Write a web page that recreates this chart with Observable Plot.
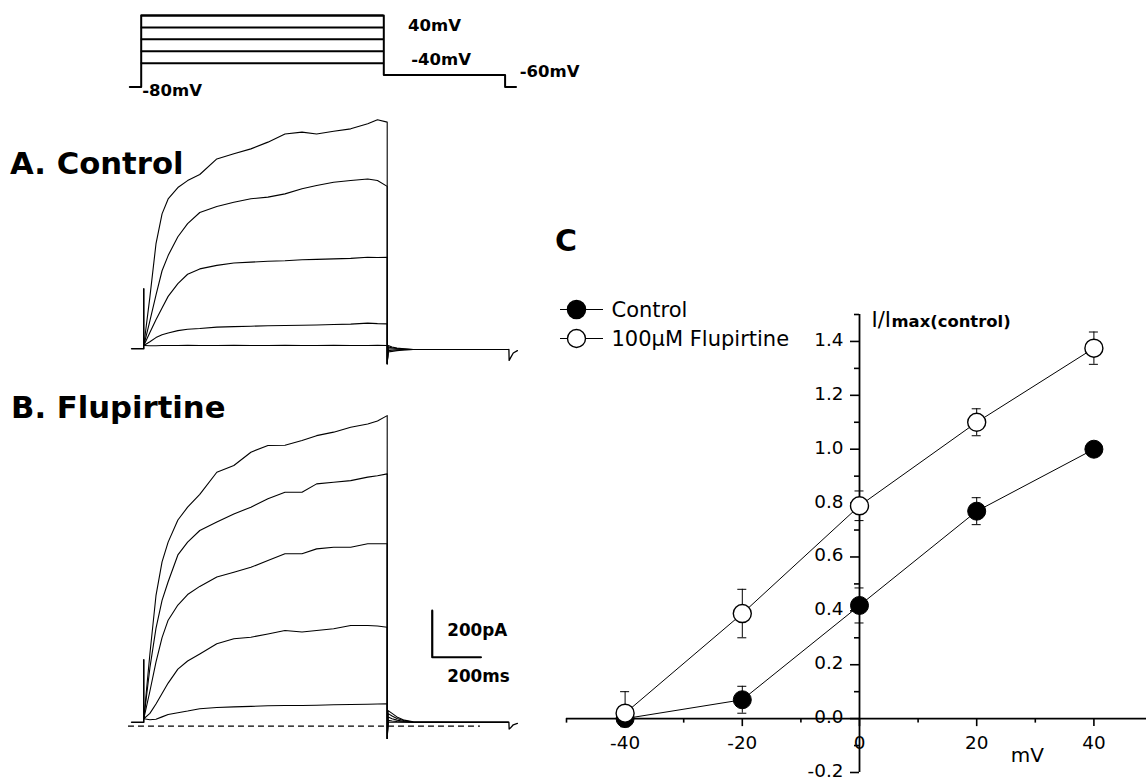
<!DOCTYPE html>
<html><head><meta charset="utf-8">
<script src="https://cdn.jsdelivr.net/npm/d3@7"></script>
<script src="https://cdn.jsdelivr.net/npm/@observablehq/plot@0.6"></script>
<style>
body{margin:0;background:#fff;}
#fig{position:relative;width:1146px;height:781px;overflow:hidden;background:#fff;font-family:"DejaVu Sans",sans-serif;}
.lbl{position:absolute;font-weight:bold;white-space:nowrap;line-height:1;color:#000;font-family:"DejaVu Sans",sans-serif;}
</style></head><body><div id="fig">
<div class="lbl" style="left:10px;top:149px;font-size:30.7px;">A. Control</div>
<div class="lbl" style="left:11px;top:393px;font-size:30.7px;">B. Flupirtine</div>
<div class="lbl" style="left:555px;top:226px;font-size:30px;">C</div>
</div>
<script>
// ---------- voltage protocol ----------
const protoSteps = [-40, -20, 0, 20, 40];          // mV
const protoHold = -80, protoTail = -60;             // mV
const protoT = [-47, 0, 1000, 1500, 1545];          // ms: start, step on, step off, tail end, end
const protoLabels = [
  {text: "40mV", t: 1100, v: 14.8},
  {text: "-40mV", t: 1113, v: -43.9},
  {text: "-60mV", t: 1560, v: -63.5},
  {text: "-80mV", t: 4, v: -94.3}
];

// ---------- current traces (pA) ----------
const stepTimes = [0, 25, 50, 75, 100, 140, 180, 230, 300, 370, 440, 510, 580, 650, 710, 780, 850, 920, 960, 1000];
const ctrlM40 = [14, 13, 13, 14, 14, 14, 15, 14, 14, 15, 14, 14, 15, 14, 14, 15, 14, 14, 15, 14];
const ctrlM20 = [14, 30, 48, 60, 68, 78, 84, 87, 93, 95, 97, 99, 100, 101, 102, 104, 106, 110, 108, 107];
const ctrl0   = [14, 70, 125, 175, 225, 280, 320, 343, 358, 368, 372, 376, 378, 382, 384, 386, 388, 393, 392, 393];
const ctrl20  = [14, 120, 230, 335, 400, 481, 537, 585, 611, 629, 644, 651, 665, 687, 701, 715, 722, 729, 722, 697];
const ctrl40  = [14, 222, 450, 579, 643, 692, 722, 748, 815, 837, 858, 887, 922, 930, 922, 934, 944, 966, 983, 973];
const fluM40 = [32, 28, 30, 40, 50, 58, 65, 75, 80, 83, 85, 88, 89, 89, 90, 92, 93, 94, 95, 96];
const fluM20 = [32, 55, 95, 140, 185, 245, 280, 310, 354, 375, 382, 396, 411, 404, 411, 418, 432, 432, 430, 425];
const flu0   = [32, 150, 275, 380, 455, 520, 565, 600, 640, 661, 682, 711, 740, 740, 761, 768, 768, 783, 783, 783];
const flu20  = [32, 250, 420, 540, 620, 735, 790, 840, 876, 911, 940, 976, 1004, 1004, 1040, 1047, 1054, 1069, 1075, 1083];
const flu40  = [32, 310, 560, 705, 790, 885, 940, 995, 1090, 1119, 1176, 1205, 1206, 1226, 1247, 1262, 1283, 1297, 1310, 1333];

const tailTimes = [1004, 1020, 1040, 1070, 1107, 1300, 1498];
const ctrlTailM40 = [14, 8, 3, 0, -3, -3, -3];
const ctrlTailM20 = [8, 4, 1, -1, -3, -3, -3];
const ctrlTail0   = [0, -1, -2, -3, -3, -3, -3];
const ctrlTail20  = [-8, -6, -5, -4, -3, -3, -3];
const ctrlTail40  = [-14, -11, -8, -5, -3, -3, -3];
const fluTailM40 = [17, 17, 17, 17, 17, 17, 17];
const fluTailM20 = [25, 22, 20, 18, 17, 17, 17];
const fluTail0   = [39, 32, 26, 20, 17, 17, 17];
const fluTail20  = [54, 44, 33, 23, 18, 17, 17];
const fluTail40  = [67, 55, 40, 26, 19, 17, 17];
const ctrlOffMin = -64, fluOffMin = -53;        // capacitive transient at step off
const holdTimes = [-50, 0];
const ctrlHold = 0, fluHold = 17;
const ctrlOnSpike = 257, fluOnSpike = 285;       // capacitive transient at step on
const notchTimes = [1500, 1501, 1506, 1518, 1535];
const ctrlNotch = [-3, -50, -40, -18, -8];
const fluNotch = [17, -12, -8, 6, 12];
const scaleBarT = [1185, 1385];   // 200 ms
const scaleBarI = [296, 496];     // 200 pA

// ---------- I-V data ----------
const mV = [-40, -20, 0, 20, 40];
const controlMean = [0.0, 0.07, 0.42, 0.77, 1.0];
const controlErr  = [0.03, 0.05, 0.065, 0.05, 0];
const fluMean = [0.02, 0.39, 0.79, 1.10, 1.375];
const fluErrHi = [0.08, 0.09, 0.055, 0.05, 0.06];
const fluErrLo = [0.0, 0.09, 0.055, 0.05, 0.06];
const xMajor = [-40, -20, 0, 20, 40];
const xMinor = [-50, -30, -10, 10, 30, 50];
const yMajor = [-0.2, 0.0, 0.2, 0.4, 0.6, 0.8, 1.0, 1.2, 1.4];
const yMinor = [-0.1, 0.1, 0.3, 0.5, 0.7, 0.9, 1.1, 1.3, 1.5];
const yLabels = ["-0.2", "0.0", "0.2", "0.4", "0.6", "0.8", "1.0", "1.2", "1.4"];
const legendNames = ["Control", "100\u03BCM Flupirtine"];

// ---------- helpers ----------
const W = 1146, H = 781;
const fig = document.getElementById("fig");
const FONT = "DejaVu Sans";
function overlay(opts) {
  const svg = Plot.plot(Object.assign({
    width: W, height: H, margin: 0,
    style: "position:absolute;left:0;top:0;background:transparent;overflow:visible;font-family:'DejaVu Sans';"
  }, opts));
  fig.appendChild(svg);
}
function tracePts(label, values, tail, offMin) {
  const pts = stepTimes.map((t, k) => ({v: label, t, i: values[k]}));
  pts.push({v: label, t: 1000, i: offMin});
  tailTimes.forEach((t, k) => pts.push({v: label, t, i: tail[k]}));
  return pts;
}

// ---------- protocol ----------
const outline = [
  {t: protoT[0], v: protoHold}, {t: protoT[1], v: protoHold}, {t: protoT[1], v: 40},
  {t: protoT[2], v: 40}, {t: protoT[2], v: protoTail}, {t: protoT[3], v: protoTail},
  {t: protoT[3], v: protoHold}, {t: protoT[4], v: protoHold}
];
overlay({
  x: {domain: [0, 1000], range: [140.7, 383.3], axis: null},
  y: {domain: [-80, 40], range: [86.5, 15], axis: null},
  marks: [
    Plot.ruleY(protoSteps, {y: d => d, x1: protoT[1], x2: protoT[2], stroke: "#000", strokeWidth: 2}),
    Plot.line(outline, {x: "t", y: "v", stroke: "#000", strokeWidth: 2}),
    Plot.text(protoLabels, {x: "t", y: "v", text: "text", textAnchor: "start", lineAnchor: "bottom",
      fontFamily: FONT, fontWeight: "bold", fontSize: 16.5, fill: "#000"})
  ]
});

// ---------- panel A ----------
const ctrlTraces = [
  ...tracePts(-40, ctrlM40, ctrlTailM40, ctrlOffMin),
  ...tracePts(-20, ctrlM20, ctrlTailM20, ctrlOffMin),
  ...tracePts(0, ctrl0, ctrlTail0, ctrlOffMin),
  ...tracePts(20, ctrl20, ctrlTail20, ctrlOffMin),
  ...tracePts(40, ctrl40, ctrlTail40, ctrlOffMin)
];
const ctrlPre = [{t: holdTimes[0], i: ctrlHold}, {t: holdTimes[1], i: ctrlHold}, {t: 0, i: ctrlOnSpike}, {t: 0, i: ctrlHold}];
const ctrlEnd = notchTimes.map((t, k) => ({t, i: ctrlNotch[k]}));
overlay({
  x: {domain: [0, 1000], range: [143.3, 386.7], axis: null},
  y: {domain: [0, 1000], range: [348.3, 115.3], axis: null},
  marks: [
    Plot.line(ctrlPre, {x: "t", y: "i", stroke: "#000", strokeWidth: 1.6}),
    Plot.line(ctrlTraces, {x: "t", y: "i", z: "v", stroke: "#000", strokeWidth: 1.1}),
    Plot.line(ctrlEnd, {x: "t", y: "i", stroke: "#000", strokeWidth: 1.3})
  ]
});

// ---------- panel B ----------
const fluTraces = [
  ...tracePts(-40, fluM40, fluTailM40, fluOffMin),
  ...tracePts(-20, fluM20, fluTailM20, fluOffMin),
  ...tracePts(0, flu0, fluTail0, fluOffMin),
  ...tracePts(20, flu20, fluTail20, fluOffMin),
  ...tracePts(40, flu40, fluTail40, fluOffMin)
];
const fluPre = [{t: holdTimes[0], i: fluHold}, {t: holdTimes[1], i: fluHold}, {t: 0, i: fluOnSpike}, {t: 0, i: fluHold}];
const fluEnd = notchTimes.map((t, k) => ({t, i: fluNotch[k]}));
const bar = [{t: scaleBarT[0], i: scaleBarI[1]}, {t: scaleBarT[0], i: scaleBarI[0]}, {t: scaleBarT[1], i: scaleBarI[0]}];
overlay({
  x: {domain: [0, 1000], range: [143.3, 386.7], axis: null},
  y: {domain: [0, 1000], range: [725.7, 492.7], axis: null},
  marks: [
    Plot.ruleY([0], {y: d => d, x1: -63, x2: 1383, stroke: "#000", strokeWidth: 1.2, strokeDasharray: "6,4"}),
    Plot.line(fluPre, {x: "t", y: "i", stroke: "#000", strokeWidth: 1.6}),
    Plot.line(fluTraces, {x: "t", y: "i", z: "v", stroke: "#000", strokeWidth: 1.1}),
    Plot.line(fluEnd, {x: "t", y: "i", stroke: "#000", strokeWidth: 1.3}),
    Plot.line(bar, {x: "t", y: "i", stroke: "#000", strokeWidth: 2.2}),
    Plot.text(["200pA"], {x: scaleBarT[0], y: (scaleBarI[0] + scaleBarI[1]) / 2, dx: 15, dy: 2, text: d => d,
      textAnchor: "start", lineAnchor: "bottom", fontFamily: FONT, fontWeight: "bold", fontSize: 16.8, fill: "#000"}),
    Plot.text(["200ms"], {x: scaleBarT[0], y: scaleBarI[0], dx: 15, dy: 25, text: d => d,
      textAnchor: "start", lineAnchor: "bottom", fontFamily: FONT, fontWeight: "bold", fontSize: 16.8, fill: "#000"})
  ]
});

// ---------- panel C ----------
const ctrlRows = mV.map((x, k) => ({x, m: controlMean[k], lo: controlMean[k] - controlErr[k], hi: controlMean[k] + controlErr[k]}));
const fluRows = mV.map((x, k) => ({x, m: fluMean[k], lo: fluMean[k] - fluErrLo[k], hi: fluMean[k] + fluErrHi[k]}));
const errMarks = (rows) => [
  Plot.ruleX(rows.filter(d => d.hi > d.lo), {x: "x", y1: "lo", y2: "hi", stroke: "#000", strokeWidth: 1}),
  Plot.ruleY(rows.filter(d => d.hi > d.m), {y: "hi", x1: "x", x2: "x", insetLeft: -4.5, insetRight: -4.5, stroke: "#000", strokeWidth: 1}),
  Plot.ruleY(rows.filter(d => d.lo < d.m), {y: "lo", x1: "x", x2: "x", insetLeft: -4.5, insetRight: -4.5, stroke: "#000", strokeWidth: 1})
];
overlay({
  x: {domain: [-50, 50], range: [566, 1152], axis: null},
  y: {domain: [-0.2, 1.5], range: [772, 314], axis: null},
  marks: [
    // axes
    Plot.ruleY([0], {y: d => d, x1: -50, x2: 50, stroke: "#000", strokeWidth: 1.8}),
    Plot.ruleX([0], {x: d => d, y1: -0.2, y2: 1.5, stroke: "#000", strokeWidth: 1.8}),
    Plot.ruleX(xMajor, {x: d => d, y1: 0, y2: 0, insetBottom: -8, stroke: "#000", strokeWidth: 1.6}),
    Plot.ruleX(xMinor, {x: d => d, y1: 0, y2: 0, insetBottom: -4.5, stroke: "#000", strokeWidth: 1.6}),
    Plot.ruleY(yMajor, {y: d => d, x1: 0, x2: 0, insetLeft: -9, stroke: "#000", strokeWidth: 1.6}),
    Plot.ruleY(yMinor, {y: d => d, x1: 0, x2: 0, insetLeft: -5, stroke: "#000", strokeWidth: 1.6}),
    Plot.text(xMajor, {x: d => d, y: 0, dy: 30, text: d => String(d), lineAnchor: "bottom",
      fontFamily: FONT, fontSize: 18.4, fill: "#000"}),
    Plot.text(yMajor, {x: 0, y: d => d, dx: -16, dy: 4.5, text: (d, k) => yLabels[k], textAnchor: "end", lineAnchor: "bottom",
      fontFamily: FONT, fontSize: 18.4, fill: "#000"}),
    Plot.text(["mV"], {x: 25.8, y: 0, dy: 43, text: d => d, textAnchor: "start", lineAnchor: "bottom",
      fontFamily: FONT, fontSize: 20, fill: "#000"}),
    Plot.text(["I/I"], {x: 0, y: 1.5, dx: 12, dy: 12, text: d => d, textAnchor: "start", lineAnchor: "bottom",
      fontFamily: FONT, fontSize: 21, fill: "#000"}),
    Plot.text(["max(control)"], {x: 0, y: 1.5, dx: 32, dy: 12, text: d => d, textAnchor: "start", lineAnchor: "bottom",
      fontFamily: FONT, fontWeight: "bold", fontSize: 16.4, fill: "#000"}),
    // data
    Plot.line(ctrlRows, {x: "x", y: "m", stroke: "#000", strokeWidth: 1}),
    Plot.line(fluRows, {x: "x", y: "m", stroke: "#000", strokeWidth: 1}),
    ...errMarks(ctrlRows),
    Plot.dot(ctrlRows, {x: "x", y: "m", r: 9, fill: "#000", stroke: "#000", strokeWidth: 1}),
    ...errMarks(fluRows),
    Plot.dot(fluRows, {x: "x", y: "m", r: 9, fill: "#fff", stroke: "#000", strokeWidth: 1.4})
  ]
});

// ---------- legend ----------
overlay({
  x: {domain: [0, 1], range: [560, 603], axis: null},
  y: {type: "point", domain: legendNames, range: [309.3, 338.3], padding: 0, axis: null},
  marks: [
    Plot.ruleY(legendNames, {y: d => d, x1: 0, x2: 1, stroke: "#000", strokeWidth: 1}),
    Plot.dot([legendNames[0]], {x: 0.372, y: d => d, r: 9, fill: "#000", stroke: "#000"}),
    Plot.dot([legendNames[1]], {x: 0.372, y: d => d, r: 9, fill: "#fff", stroke: "#000", strokeWidth: 1.4}),
    Plot.text(legendNames, {x: 1, y: d => d, dx: 8, dy: 7.4, text: d => d, textAnchor: "start", lineAnchor: "bottom",
      fontFamily: FONT, fontSize: 21, fill: "#000"})
  ]
});
</script></body></html>
